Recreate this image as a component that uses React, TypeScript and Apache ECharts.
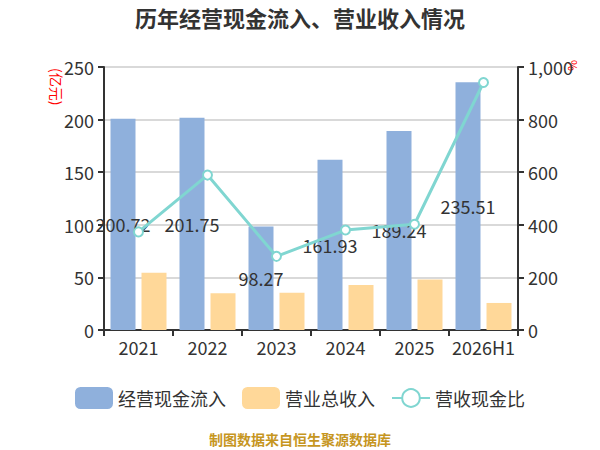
import React, { useEffect, useRef } from "react";
import * as echarts from "echarts";

const categories = ["2021", "2022", "2023", "2024", "2025", "2026H1"];
const cashInflow = [200.72, 201.75, 98.27, 161.93, 189.24, 235.51];
const revenue = [54.5, 34.9, 35.5, 42.8, 47.9, 25.7];
const ratio = [373, 589, 280, 380, 402, 941];
const leftTicks = [0, 50, 100, 150, 200, 250];
const rightTicks = [0, 200, 400, 600, 800, 1000];

const FONT = "'Noto Sans CJK SC', 'Noto Sans', sans-serif";

export default function App() {
  const ref = useRef<HTMLDivElement>(null);
  useEffect(() => {
    document.body.style.margin = "0";
    if (!ref.current) return;
    const chart = echarts.init(ref.current, undefined, { renderer: "svg" });
    chart.setOption({
      animation: false,
      textStyle: { fontFamily: FONT },
      title: {
        text: "历年经营现金流入、营业收入情况",
        left: "center",
        top: 1,
        textStyle: { fontSize: 22, fontWeight: "bold", color: "#333", fontFamily: FONT },
      },
      legend: {
        bottom: 36,
        left: "center",
        itemWidth: 38,
        itemHeight: 22,
        itemGap: 16,
        textStyle: { fontSize: 18, color: "#333", fontFamily: FONT },
        data: [
          { name: "经营现金流入", icon: "roundRect" },
          { name: "营业总收入", icon: "roundRect" },
          { name: "营收现金比" },
        ],
      },
      graphic: [
        {
          type: "text",
          x: 64,
          y: 68,
          rotation: -Math.PI / 2,
          style: { text: "(亿元)", fill: "#ff0000", fontSize: 14, fontFamily: FONT },
        },
        {
          type: "text",
          x: 580,
          y: 60,
          rotation: -Math.PI / 2,
          style: { text: "%", fill: "#ff0000", fontSize: 12, fontFamily: FONT },
        },
        {
          type: "text",
          left: "center",
          top: 432,
          style: {
            text: "制图数据来自恒生聚源数据库",
            fill: "#C6961F",
            fontSize: 14,
            fontWeight: "bold",
            fontFamily: FONT,
          },
        },
      ],
      grid: { left: 104, right: 82, top: 67, bottom: 120 },
      xAxis: {
        type: "category",
        data: categories,
        axisLine: { lineStyle: { color: "#333", width: 2 } },
        axisTick: { show: true, length: 6, lineStyle: { color: "#333", width: 2 } },
        axisLabel: { fontSize: 18, color: "#333", margin: 8, interval: 0 },
      },
      yAxis: [
        {
          type: "value",
          min: leftTicks[0],
          max: leftTicks[leftTicks.length - 1],
          interval: 50,
          axisLine: { show: true, lineStyle: { color: "#333", width: 2 } },
          axisTick: { show: true, length: 6, lineStyle: { color: "#333", width: 2 } },
          axisLabel: { fontSize: 18, color: "#333", margin: 10 },
          splitLine: { lineStyle: { color: "#cccccc", width: 1.5 } },
        },
        {
          type: "value",
          min: rightTicks[0],
          max: rightTicks[rightTicks.length - 1],
          interval: 200,
          axisLine: { show: true, lineStyle: { color: "#333", width: 2 } },
          axisTick: { show: true, length: 6, lineStyle: { color: "#333", width: 2 } },
          axisLabel: {
            fontSize: 18,
            color: "#333",
            margin: 10,
            formatter: (v: number) => v.toLocaleString("en-US"),
          },
          splitLine: { show: false },
        },
      ],
      series: [
        {
          name: "经营现金流入",
          type: "bar",
          data: cashInflow,
          barWidth: 25,
          barGap: "24%",
          itemStyle: { color: "#8FB0DC" },
          label: {
            show: true,
            position: "inside",
            color: "#333",
            fontSize: 18,
            formatter: (p: any) => p.value.toFixed(2),
          },
        },
        {
          name: "营业总收入",
          type: "bar",
          data: revenue,
          barWidth: 25,
          itemStyle: { color: "#FFD899" },
        },
        {
          name: "营收现金比",
          type: "line",
          yAxisIndex: 1,
          data: ratio,
          symbol: "circle",
          symbolSize: 9,
          lineStyle: { color: "#80D6D1", width: 3 },
          itemStyle: { color: "#fff", borderColor: "#80D6D1", borderWidth: 2 },
        },
      ],
    });
    return () => chart.dispose();
  }, []);
  return <div ref={ref} style={{ width: 600, height: 450 }} />;
}
